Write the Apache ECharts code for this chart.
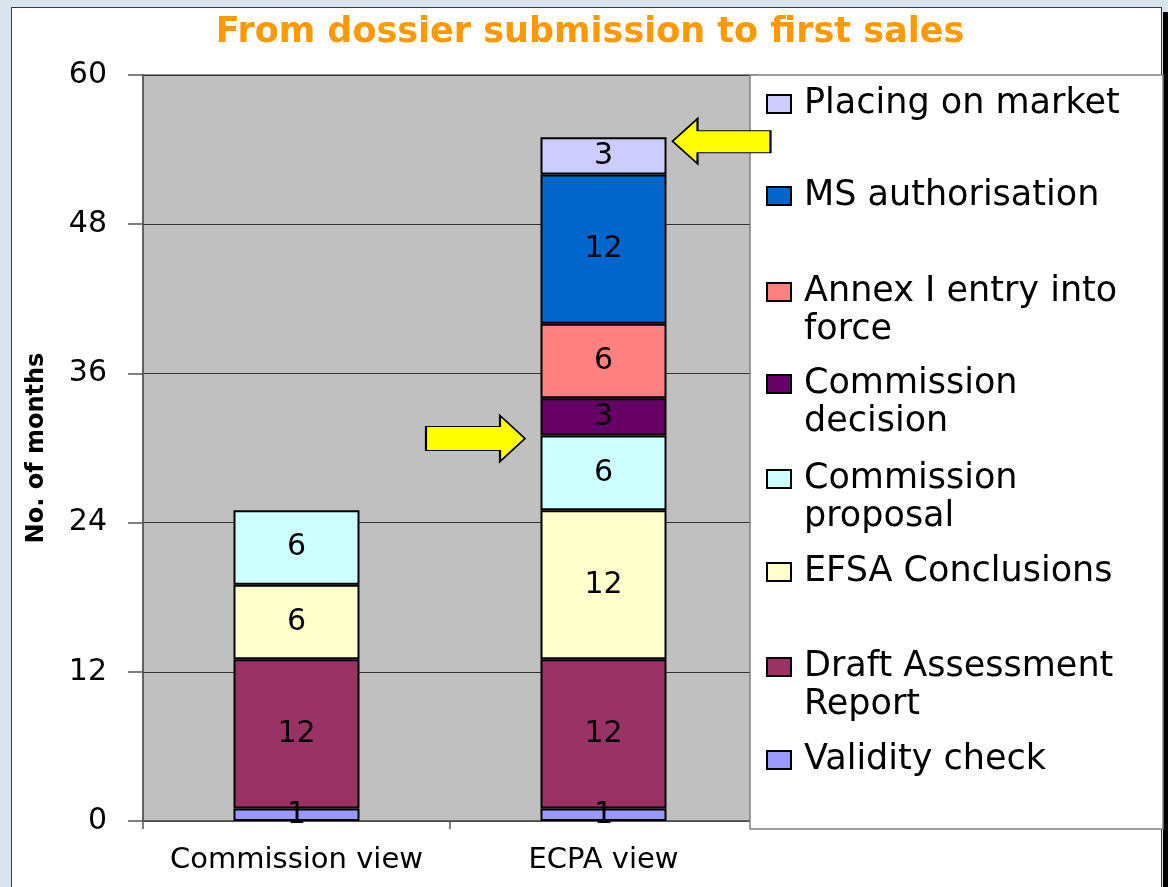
<!DOCTYPE html>
<html>
<head>
<meta charset="utf-8">
<script src="https://cdn.jsdelivr.net/npm/echarts@6/dist/echarts.min.js"></script>
<style>
  html, body { margin: 0; padding: 0; width: 1168px; height: 887px; overflow: hidden; background: #DAE4EE; }
  #frame { position: absolute; left: 11px; top: 7px; width: 1151px; height: 900px; background: #fff; border: 1.5px solid #3a3a3a; box-sizing: border-box; }
  #edge { position: absolute; right: 0; top: 12px; width: 5px; height: 875px; background: #000; }
  #chart { position: absolute; left: 0; top: 0; width: 1168px; height: 887px; }
</style>
</head>
<body>
<div id="frame"></div>
<div id="edge"></div>
<div id="chart"></div>
<script>
// ---- data ----
const categories = ['Commission view', 'ECPA view'];
const stageNames = ['Validity check', 'Draft Assessment Report', 'EFSA Conclusions', 'Commission proposal',
                    'Commission decision', 'Annex I entry into force', 'MS authorisation', 'Placing on market'];
const validityCheck      = [1, 1];
const draftAssessment    = [12, 12];
const efsaConclusions    = [6, 12];
const commissionProposal = [6, 6];
const commissionDecision = [null, 3];
const annexEntry         = [null, 6];
const msAuthorisation    = [null, 12];
const placingOnMarket    = [null, 3];
const yMin = 0, yMax = 60, yInterval = 12;

const stageValues = [validityCheck, draftAssessment, efsaConclusions, commissionProposal,
                     commissionDecision, annexEntry, msAuthorisation, placingOnMarket];
const stageColors = ['#9999FF', '#993366', '#FFFFCC', '#CCFFFF', '#660066', '#FF8080', '#0066CC', '#CCCCFF'];

// legend wrapping (as in the original legend)
const legendWrap = {
  'Annex I entry into force': 'Annex I entry into\nforce',
  'Commission decision': 'Commission\ndecision',
  'Commission proposal': 'Commission\nproposal',
  'Draft Assessment Report': 'Draft Assessment\nReport'
};

const FONT = 'DejaVu Sans';

// cumulative levels for the ECPA view (arrow targets)
const ecpaIdx = 1;
function levelAfter(n) { let s = 0; for (let i = 0; i <= n; i++) s += (stageValues[i][ecpaIdx] || 0); return s; }
const ecpaTotal = levelAfter(stageValues.length - 1);
const ecpaAfterProposal = levelAfter(3);

const arrowLeft = 'path://M0 22.5 L25 0 L25 12 L98 12 L98 34 L25 34 L25 45 Z';
const arrowRight = 'path://M0 11 L74 11 L74 0 L99 23 L74 46 L74 35 L0 35 Z';

const series = stageNames.map((name, i) => {
  const s = {
    name: name,
    type: 'bar',
    stack: 'total',
    barWidth: 126,
    data: stageValues[i],
    itemStyle: { color: stageColors[i], borderColor: '#000', borderWidth: 2 },
    label: { show: true, position: 'inside', color: '#000', fontSize: 30, fontFamily: FONT },
    emphasis: { disabled: true }
  };
  if (i === stageNames.length - 1) {
    s.markPoint = {
      silent: true,
      label: { show: false },
      itemStyle: { color: '#FFFF00', borderColor: '#000', borderWidth: 1.5 },
      data: [
        { coord: [categories[ecpaIdx], ecpaTotal], symbol: arrowLeft, symbolSize: [98, 45], symbolOffset: [118, 4], symbolKeepAspect: false },
        { coord: [categories[ecpaIdx], ecpaAfterProposal], symbol: arrowRight, symbolSize: [99, 46], symbolOffset: [-128, 3], symbolKeepAspect: false }
      ]
    };
  }
  return s;
});

// legend entries, top to bottom
const legendOrder = stageNames.slice().reverse();
const legendIconCenters = [104, 196, 292, 384, 479, 572, 667, 760];
const LH = 38;
const legends = legendOrder.map((name, k) => {
  const twoLine = !!legendWrap[name];
  return {
    data: [name],
    left: 766,
    top: legendIconCenters[k] - (twoLine ? LH * 1.5 : LH / 2),
    padding: 0,
    icon: 'rect',
    itemWidth: 24,
    itemHeight: 18,
    itemStyle: { borderColor: '#000', borderWidth: 2 },
    selectedMode: false,
    // an empty first line keeps the icon level with the first text line
    formatter: n => legendWrap[n] ? '\n' + legendWrap[n] : n,
    textStyle: {
      fontSize: 35, fontFamily: FONT, color: '#000', lineHeight: LH,
      padding: [0, 0, 0, 8]
    }
  };
});

const chart = echarts.init(document.getElementById('chart'), null, { renderer: 'canvas' });
chart.setOption({
  backgroundColor: 'transparent',
  animation: false,
  title: {
    text: 'From dossier submission to first sales',
    left: 590, top: 15, textAlign: 'center', padding: 0,
    textStyle: { color: '#FF9900', fontWeight: 'bold', fontSize: 35, fontFamily: FONT }
  },
  graphic: [{
    type: 'rect', z: 3, silent: true,
    shape: { x: 750, y: 75, width: 413, height: 754 },
    style: { fill: '#fff', stroke: '#808080', lineWidth: 1.5 }
  }],
  legend: legends,
  grid: {
    left: 143, right: 411, top: 75, bottom: 66,
    show: true, backgroundColor: '#C0C0C0', borderColor: '#707070', borderWidth: 1.5
  },
  xAxis: {
    type: 'category',
    data: categories,
    axisLine: { show: true, lineStyle: { color: '#555', width: 1.5 } },
    axisTick: { show: true, length: 8, alignWithLabel: false, lineStyle: { color: '#555', width: 1.5 } },
    axisLabel: { color: '#000', fontSize: 29, fontFamily: FONT, margin: 25, interval: 0 }
  },
  yAxis: {
    type: 'value',
    min: yMin, max: yMax, interval: yInterval,
    name: 'No. of months',
    nameLocation: 'middle',
    nameRotate: 90,
    nameGap: 94,
    nameTextStyle: { color: '#000', fontWeight: 'bold', fontSize: 24, fontFamily: FONT },
    axisLine: { show: true, lineStyle: { color: '#555', width: 1.5 } },
    axisTick: { show: true, length: 15, inside: false, lineStyle: { color: '#555', width: 1.5 } },
    axisLabel: { color: '#000', fontSize: 30, fontFamily: FONT, margin: 36 },
    splitLine: { show: true, lineStyle: { color: '#333', width: 1 } }
  },
  series: series
});
</script>
</body>
</html>
